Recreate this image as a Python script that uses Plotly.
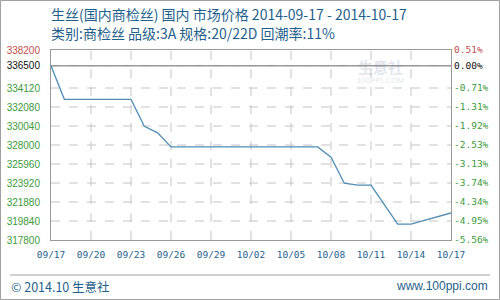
import plotly.graph_objects as go

# ---- data ----
dates = ["2014-09-17", "2014-09-18", "2014-09-23", "2014-09-24", "2014-09-25",
         "2014-09-26", "2014-10-07", "2014-10-08", "2014-10-09", "2014-10-10",
         "2014-10-11", "2014-10-13", "2014-10-14", "2014-10-15", "2014-10-16",
         "2014-10-17"]
prices = [336500, 332900, 332900, 330000, 329300,
          327800, 327800, 326700, 323900, 323700,
          323700, 319500, 319500, 319900, 320300,
          320700]
base_price = 336500
y_ticks = [317800, 319840, 321880, 323920, 325960, 328000, 330040, 332080, 334120, 336500, 338200]
pct_labels = ["-5.56%", "-4.95%", "-4.34%", "-3.74%", "-3.13%", "-2.53%", "-1.92%", "-1.31%", "-0.71%", "0.00%", "0.51%"]
x_tick_dates = ["2014-09-17", "2014-09-20", "2014-09-23", "2014-09-26", "2014-09-29", "2014-10-02",
                "2014-10-05", "2014-10-08", "2014-10-11", "2014-10-14", "2014-10-17"]
x_tick_text = ["09/17", "09/20", "09/23", "09/26", "09/29", "10/02", "10/05", "10/08", "10/11", "10/14", "10/17"]
title1 = "生丝(国内商检丝) 国内 市场价格 2014-09-17 - 2014-10-17"
title2 = "类别:商检丝 品级:3A 规格:20/22D 回潮率:11%"
footer_left = "© 2014.10 生意社"
footer_right = "www.100ppi.com"

GREEN = "#3d9a3d"
RED = "#c0504d"
BLACK = "#111111"
BLUE = "#1f5f8b"
LINE = "#4f8db5"
GRID = "#c4c4c4"


def color_for(v):
    if v > base_price:
        return RED
    if v == base_price:
        return BLACK
    return GREEN


left_text = [f'<span style="color:{color_for(v)}">{v}</span>' for v in y_ticks]
right_text = [f'<span style="color:{color_for(v)}">{t}</span>' for v, t in zip(y_ticks, pct_labels)]

W, H = 500, 300
ML, MR, MT, MB = 51, 49, 50, 60
PW, PH = W - ML - MR, H - MT - MB


def px(x):
    return (x - ML) / PW


def py(y):
    return (H - MB - y) / PH


fig = go.Figure()
fig.add_trace(go.Scatter(x=dates, y=prices, mode="lines",
                         line=dict(color=LINE, width=1.3), hoverinfo="skip", showlegend=False))
fig.add_trace(go.Scatter(x=dates, y=prices, mode="lines", yaxis="y2",
                         line=dict(color="rgba(0,0,0,0)", width=0), hoverinfo="skip", showlegend=False))

axis_common = dict(showline=True, linecolor="#999999", linewidth=1, mirror=True,
                   ticks="", zeroline=False, automargin=False, showgrid=False)

fig.update_layout(
    width=W, height=H,
    margin=dict(l=ML, r=MR, t=MT, b=MB),
    paper_bgcolor="white", plot_bgcolor="white",
    xaxis=dict(type="date", range=["2014-09-17", "2014-10-17"],
               tickvals=x_tick_dates, ticktext=x_tick_text,
               tickfont=dict(family="DejaVu Sans Mono", size=9.5, color=BLUE),
               ticklabelstandoff=6,
               **axis_common),
    yaxis=dict(range=[y_ticks[0], y_ticks[-1]], tickvals=y_ticks, ticktext=left_text,
               tickfont=dict(family="Liberation Sans", size=10),
               ticklabelstandoff=8,
               **axis_common),
    yaxis2=dict(range=[y_ticks[0], y_ticks[-1]], tickvals=y_ticks, ticktext=right_text,
                overlaying="y", side="right", showgrid=False,
                tickfont=dict(family="DejaVu Sans Mono", size=9.5),
                ticklabelstandoff=2, automargin=False,
                showline=False, ticks="", zeroline=False),
)

# dashed grid lines at the tick positions
for v in y_ticks[1:-1]:
    fig.add_shape(type="line", xref="paper", x0=0, x1=1, yref="y", y0=v, y1=v,
                  layer="between", line=dict(color=GRID, width=1, dash="dash"))
for d in x_tick_dates[1:-1]:
    fig.add_shape(type="line", xref="x", x0=d, x1=d, yref="paper", y0=0, y1=1,
                  layer="between", line=dict(color=GRID, width=1, dash="dash"))

# base line at 0.00%
fig.add_shape(type="line", xref="paper", x0=0, x1=1, yref="y", y0=base_price, y1=base_price,
              layer="between", line=dict(color="#999999", width=1.5))

# outer border and footer separator
fig.add_shape(type="rect", xref="paper", yref="paper",
              x0=px(0.5), x1=px(499.5), y0=py(299.5), y1=py(0.5),
              fillcolor="rgba(0,0,0,0)", layer="between",
              line=dict(color="#a0a0a0", width=1))
fig.add_shape(type="line", xref="paper", yref="paper",
              x0=px(10), x1=px(490), y0=py(275), y1=py(275),
              line=dict(color="#a0a0a0", width=1))

font_t = dict(family="Noto Sans CJK SC", size=14, color=BLUE)
fig.add_annotation(text=title1, xref="paper", yref="paper", x=px(49), y=py(14),
                   xanchor="left", yanchor="middle", showarrow=False, font=font_t)
fig.add_annotation(text=title2, xref="paper", yref="paper", x=px(49), y=py(33),
                   xanchor="left", yanchor="middle", showarrow=False, font=font_t)
fig.add_annotation(text=footer_left, xref="paper", yref="paper", x=px(9), y=py(286),
                   xanchor="left", yanchor="middle", showarrow=False,
                   font=dict(family="Noto Sans CJK SC", size=12.5, color=BLUE))
fig.add_annotation(text=footer_right, xref="paper", yref="paper", x=px(490), y=py(286),
                   xanchor="right", yanchor="middle", showarrow=False,
                   font=dict(family="Liberation Sans", size=12, color=BLUE))

# faint logo watermark
fig.add_annotation(text="<b>生意社</b>", xref="paper", yref="paper", x=px(380), y=py(66),
                   xanchor="center", yanchor="middle", showarrow=False,
                   font=dict(family="Noto Sans CJK SC", size=15, color="rgba(120,140,170,0.22)"))
fig.add_annotation(text="100PPI.COM", xref="paper", yref="paper", x=px(380), y=py(81),
                   xanchor="center", yanchor="middle", showarrow=False,
                   font=dict(family="Liberation Sans", size=8, color="rgba(120,140,170,0.25)"))

fig.write_html("out.html")
